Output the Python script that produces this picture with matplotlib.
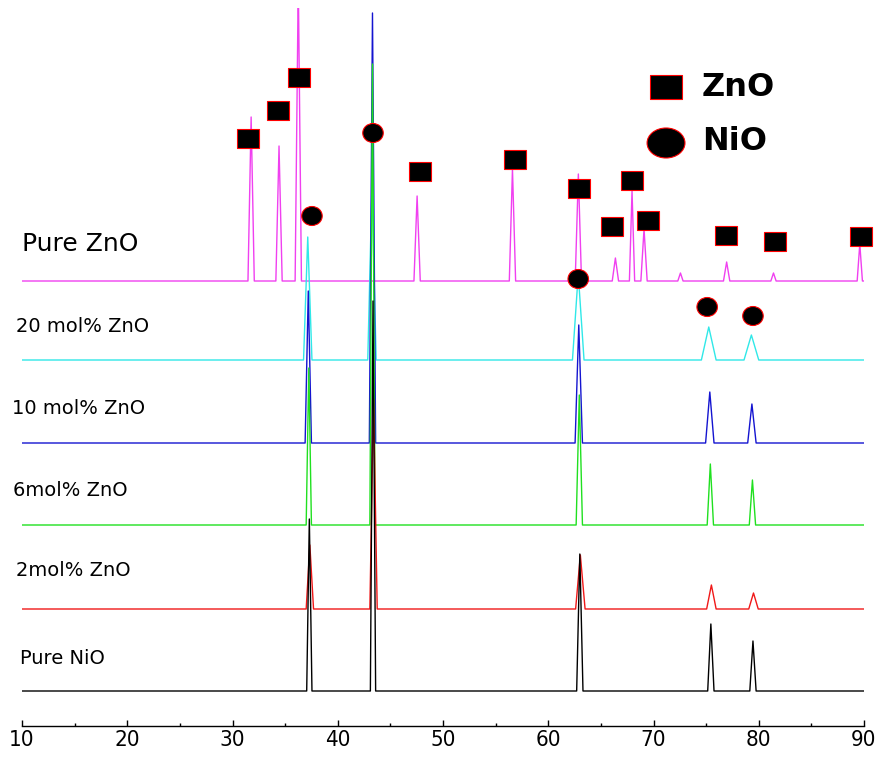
import matplotlib
matplotlib.use('Agg')
import matplotlib.pyplot as plt
from matplotlib.patches import Rectangle, Ellipse

# 2-theta range of the scans
tt_min, tt_max = 10, 90

# peak tables: 2theta (deg), intensity (a.u.), base width (deg)
nio_pos = [37.3, 43.35, 63.0, 75.45, 79.45]
nio_int = [172, 390, 137, 67, 50]
nio_wid = [0.5, 0.5, 0.6, 0.6, 0.6]

zn2_pos = [37.35, 43.4, 63.05, 75.5, 79.5]
zn2_int = [64, 210, 54, 24, 16]
zn2_wid = [0.7, 0.7, 0.9, 0.9, 0.9]

zn6_pos = [37.25, 43.3, 62.95, 75.4, 79.4]
zn6_int = [157, 461, 130, 61, 45]
zn6_wid = [0.5, 0.5, 0.6, 0.6, 0.6]

zn10_pos = [37.2, 43.3, 62.9, 75.35, 79.35]
zn10_int = [152, 430, 118, 51, 39]
zn10_wid = [0.6, 0.6, 0.7, 0.8, 0.8]

zn20_pos = [37.15, 43.25, 62.85, 75.25, 79.3]
zn20_int = [123, 173, 86, 33, 25]
zn20_wid = [0.8, 0.8, 1.1, 1.4, 1.4]

zno_pos = [31.77, 34.42, 36.25, 47.54, 56.6, 62.86, 66.38, 67.96, 69.1, 72.56, 76.95, 81.4, 89.6]
zno_int = [164, 135, 300, 85, 112, 107, 23, 90, 52, 8, 19, 8, 37]
zno_wid = [0.6, 0.6, 0.6, 0.6, 0.6, 0.6, 0.6, 0.5, 0.6, 0.5, 0.6, 0.5, 0.5]

labels = ['Pure ZnO', '20 mol% ZnO', '10 mol% ZnO', '6mol% ZnO', '2mol% ZnO', 'Pure NiO']
colors = ['#f040f0', '#30e8e8', '#1414d0', '#20e020', '#f01818', '#000000']
offsets = [445, 366, 283, 201, 117, 35]
label_y = [482, 399, 317, 235, 156, 68]
label_x = [10.0, 9.43, 9.05, 9.14, 9.43, 9.81]
label_size = [18, 14, 14, 14, 14, 14]

# phase markers (2theta, height in plot units)
zno_mark_x = [31.5, 34.3, 36.3, 47.8, 56.8, 62.9, 66.1, 68.0, 69.5, 76.9, 81.5, 89.7]
zno_mark_y = [588, 616, 649, 555, 567, 538, 500, 546, 506, 491, 485, 490]
nio_mark_x = [37.55, 43.35, 62.85, 75.1, 79.45]
nio_mark_y = [510, 593, 447, 419, 410]

peaks = [
    (zno_pos, zno_int, zno_wid),
    (zn20_pos, zn20_int, zn20_wid),
    (zn10_pos, zn10_int, zn10_wid),
    (zn6_pos, zn6_int, zn6_wid),
    (zn2_pos, zn2_int, zn2_wid),
    (nio_pos, nio_int, nio_wid),
]


def trace(pos, inten, wid, base):
    xs, ys = [tt_min], [base]
    for p, h, w in zip(pos, inten, wid):
        xs += [p - w / 2, p, p + w / 2]
        ys += [base, base + h, base]
    xs.append(tt_max)
    ys.append(base)
    return xs, ys


fig = plt.figure(figsize=(8.77, 7.57), dpi=100)
ax = fig.add_axes([22 / 877, 31 / 757, 842 / 877, 718 / 757])

for i, ((pos, inten, wid), col, off) in enumerate(zip(peaks, colors, offsets)):
    xs, ys = trace(pos, inten, wid, off)
    ax.plot(xs, ys, color=col, lw=1.0, zorder=2 + i)
    ax.text(label_x[i], label_y[i], labels[i], fontsize=label_size[i],
            ha='left', va='center', family='DejaVu Sans')

# ZnO squares / NiO circles
sq_w, sq_h = 2.09, 19
for x, y in zip(zno_mark_x, zno_mark_y):
    ax.add_patch(Rectangle((x - sq_w / 2, y - sq_h / 2), sq_w, sq_h, fc='black',
                           ec='red', lw=0.8, zorder=20, clip_on=False))
for x, y in zip(nio_mark_x, nio_mark_y):
    ax.add_patch(Ellipse((x, y), 1.95, 19, fc='black', ec='red', lw=0.8,
                         zorder=20, clip_on=False))

# legend
ax.add_patch(Rectangle((71.19 - 1.52, 639 - 12), 3.04, 24, fc='black', ec='red',
                       lw=0.8, zorder=20))
ax.add_patch(Ellipse((71.19, 583), 3.6, 30, fc='black', ec='red', lw=0.8, zorder=20))
ax.text(74.6, 638, 'ZnO', fontsize=23, fontweight='bold', ha='left', va='center')
ax.text(74.6, 584, 'NiO', fontsize=23, fontweight='bold', ha='left', va='center')

ax.set_xlim(tt_min, tt_max)
ax.set_ylim(0, 718)
ax.set_xticks(range(10, 91, 10))
ax.set_xticks(range(15, 90, 10), minor=True)
ax.tick_params(axis='x', which='major', direction='in', length=4.5, width=1.0, pad=3,
               labelsize=16)
ax.tick_params(axis='x', which='minor', direction='in', length=2.5, width=1.0)
for lab in ax.get_xticklabels():
    lab.set_family('DejaVu Sans')
    lab.set_fontstretch('condensed')
ax.set_yticks([])
for s in ['top', 'left', 'right']:
    ax.spines[s].set_visible(False)
ax.spines['bottom'].set_linewidth(1.0)

plt.savefig('out.png', dpi=100)
